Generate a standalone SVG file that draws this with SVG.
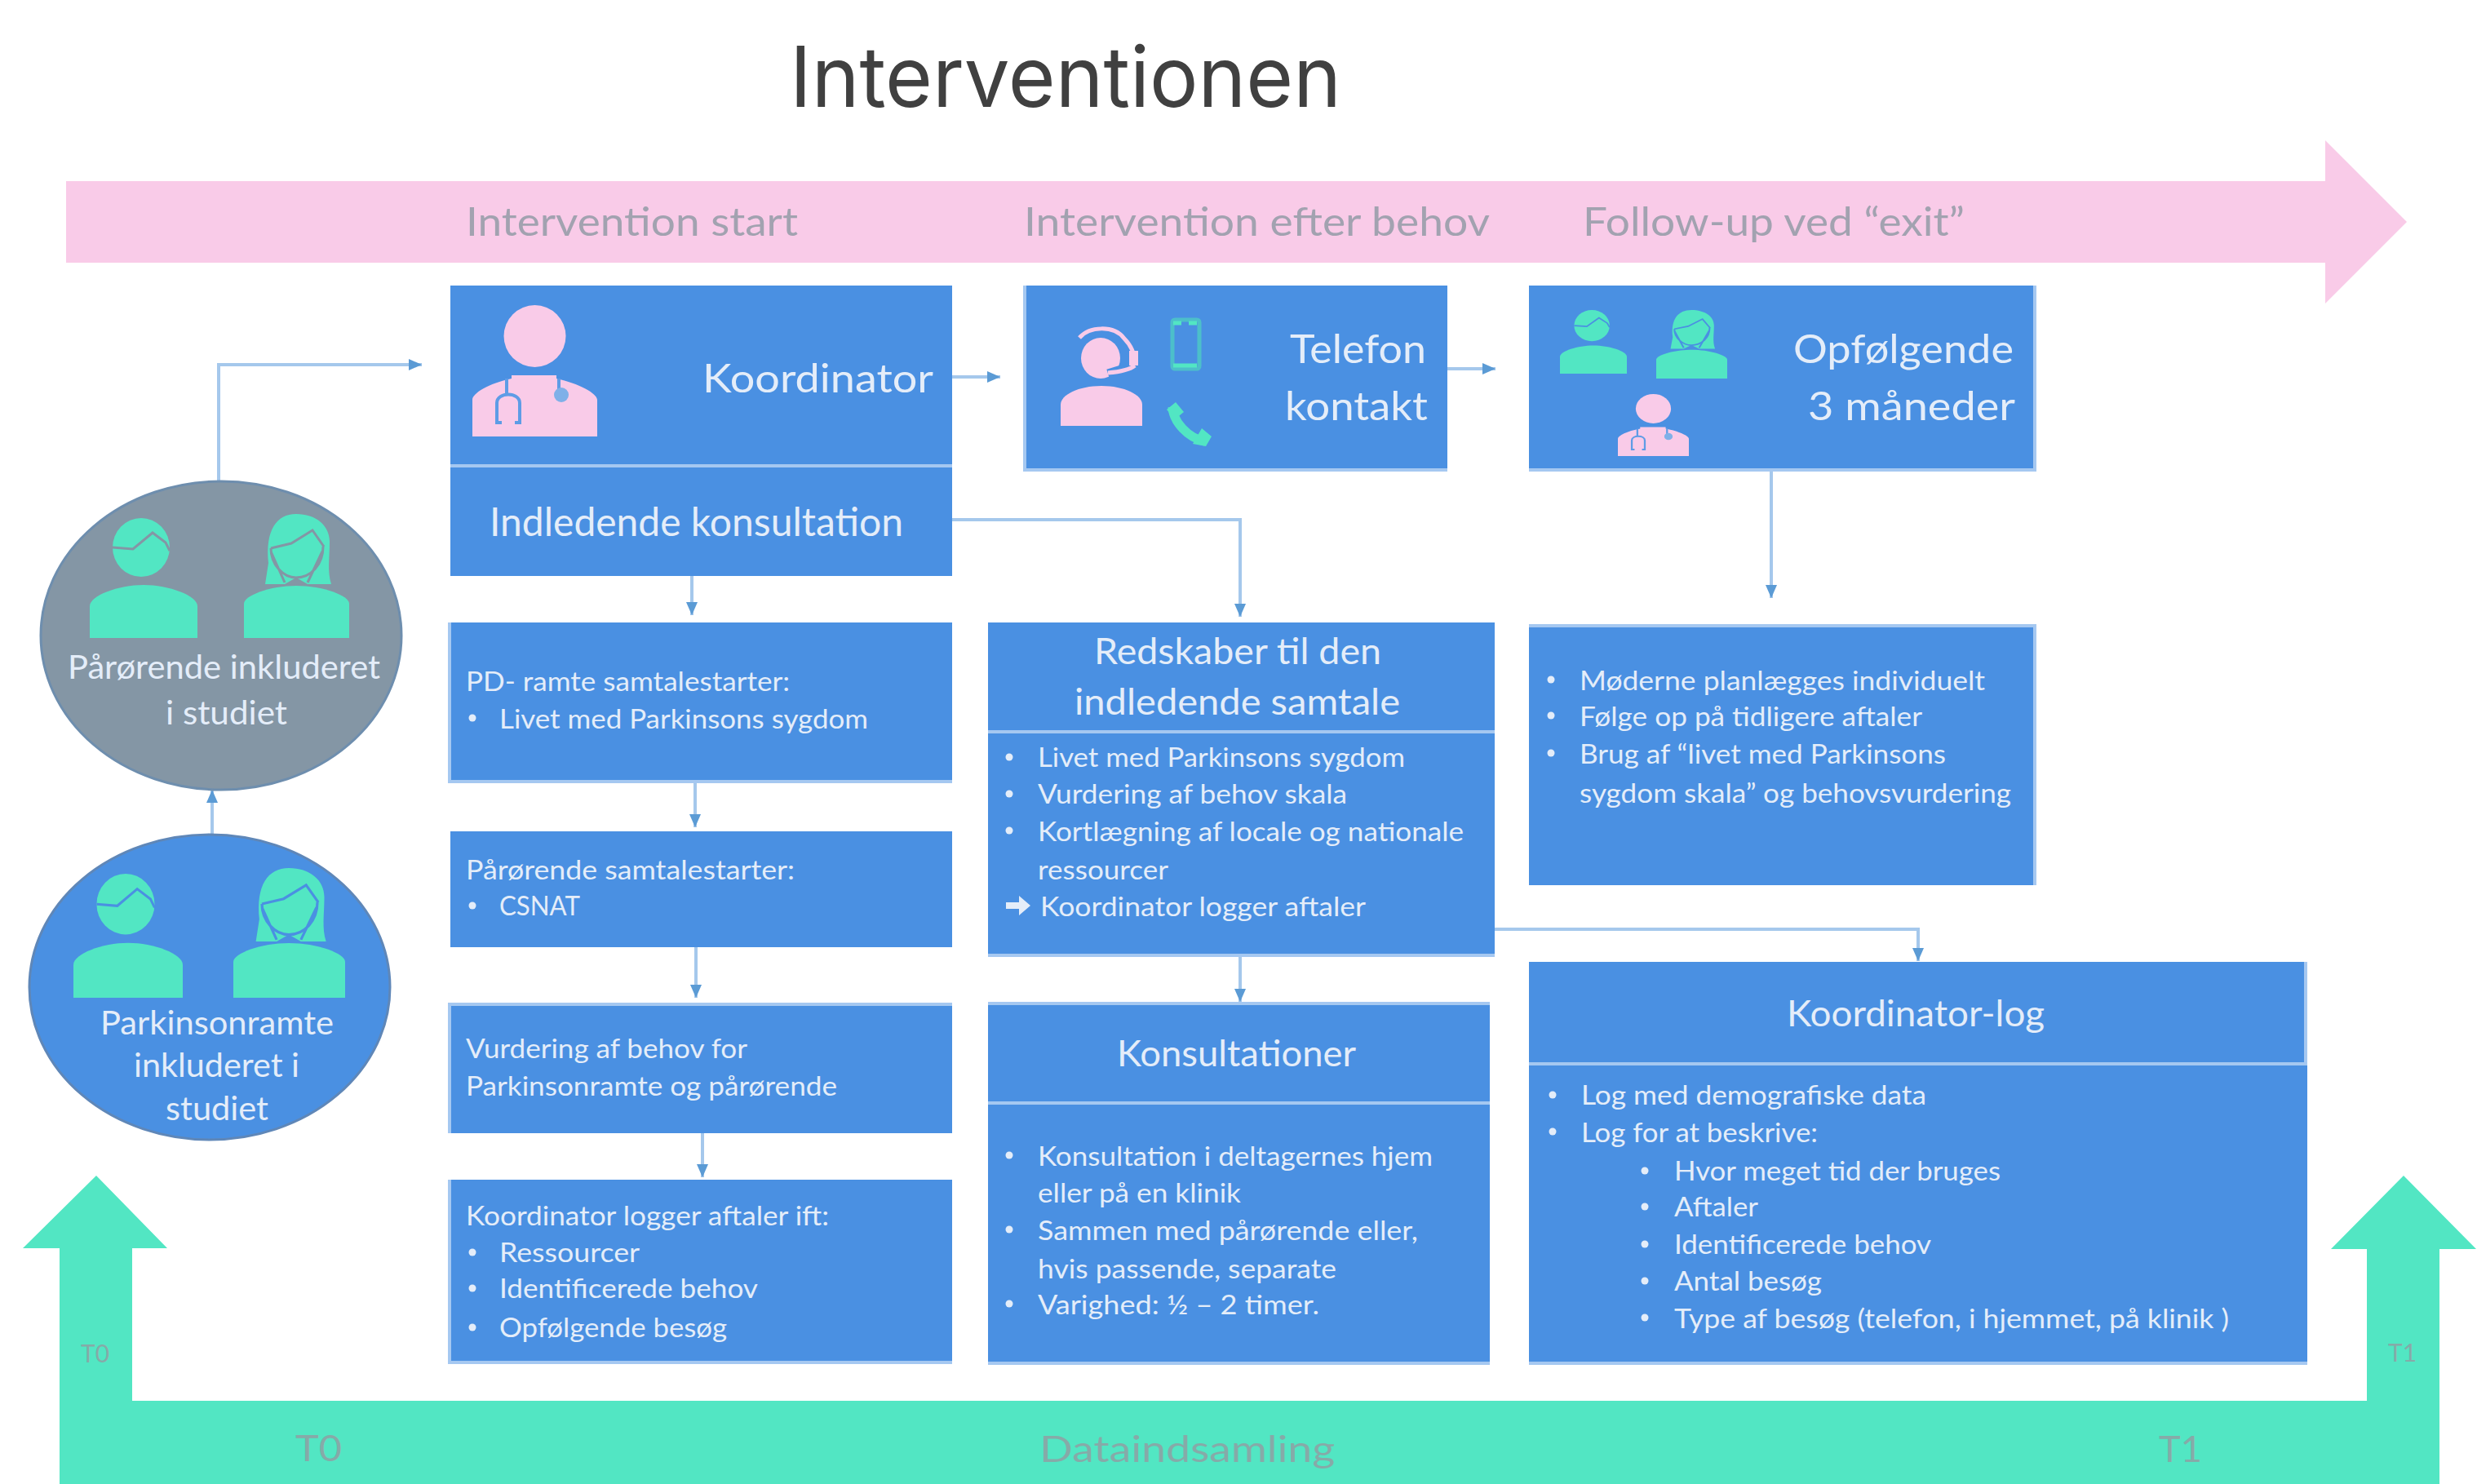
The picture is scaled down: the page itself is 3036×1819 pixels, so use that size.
<svg xmlns="http://www.w3.org/2000/svg" width="3036" height="1819" viewBox="0 0 3036 1819">
<style>
text{font-family:Lato,"Liberation Sans",sans-serif;fill:#e4edf9}
.box{fill:#4a90e2}
.edge{fill:none;stroke:#a5c8f1;stroke-width:4}
.s{font-size:33px}
.m{font-size:44px}
.l{font-size:48px}
.band{font-size:48px;fill:#a2a2b0}
.g{font-size:44px;fill:#86aaa8}
.gs{font-size:30px;fill:#86aaa8}
.c{font-size:40px}
.b{fill:#e4edf9}
.conn{fill:none;stroke:#a5c8ec;stroke-width:4;marker-end:url(#ah)}
.mint{fill:#52e6c3}
.pink{fill:#f9cbe8}
</style>
<defs>
<marker id="ah" markerUnits="userSpaceOnUse" markerWidth="20" markerHeight="20" refX="16" refY="9" orient="auto"><path d="M0,2 L16,9 L0,16 Z" fill="#5b9bd5"/></marker>
<symbol id="male" viewBox="0 0 132 147" preserveAspectRatio="none" overflow="visible">
<ellipse cx="63" cy="36" rx="35" ry="36" class="mint"/>
<path d="M28,36 L53,38 L77,18 L93,30 L98,40" fill="none" stroke="currentColor" stroke-width="3"/>
<path d="M0,147 V108 C0,95 35,82 66,82 C97,82 132,95 132,108 V147 Z" class="mint"/>
</symbol>
<symbol id="female" viewBox="0 0 129 152" preserveAspectRatio="none" overflow="visible">
<path d="M26,86 L30,60 C26,20 40,0 64,0 C88,0 105,14 105,34 C105,55 102,70 107,86 H78 L64,78 L50,86 Z" class="mint"/>
<path d="M33,42 L58,36 L84,20 L98,40 M33,42 C33,62 48,78 64,78 C82,78 97,62 97,40 M33,46 L50,84 M96,46 L78,84" fill="none" stroke="currentColor" stroke-width="3"/>
<path d="M0,152 V110 C0,100 32,88 64,88 C97,88 129,100 129,110 V152 Z" class="mint"/>
</symbol>
<symbol id="doctor" viewBox="0 0 153 161" preserveAspectRatio="none" overflow="visible">
<circle cx="76.500" cy="38" r="38" class="pink"/>
<path d="M0,161 V116 C0,108 20,96 48,90 V86 H103 V90 C130,96 153,108 153,116 V161 Z" class="pink"/>
<path d="M36,144 H30 V120 C30,106 58,106 58,120 V144 H52 M42,90 V108 M106,90 V108" fill="none" stroke="#5e9ce6" stroke-width="4"/>
<circle cx="109" cy="110" r="9" fill="#7fb0e8"/>
</symbol>
</defs>
<rect width="3036" height="1819" fill="#ffffff"/>
<text id="title" x="968" y="131" style="font-family:Inter,'Liberation Sans',sans-serif;font-size:103px;fill:#404040" textLength="676" lengthAdjust="spacingAndGlyphs">Interventionen</text>

<g id="timeline">
<path d="M81,222 H2850 V172 L2950,272 L2850,372 V322 H81 Z" class="pink"/>
<text class="band" x="571" y="289" textLength="407" lengthAdjust="spacingAndGlyphs">Intervention start</text>
<text class="band" x="1255" y="289" textLength="571" lengthAdjust="spacingAndGlyphs">Intervention efter behov</text>
<text class="band" x="1940" y="289" textLength="468" lengthAdjust="spacingAndGlyphs">Follow-up ved “exit”</text>
</g>

<g id="datacollection">
<path d="M73,1819 V1530 H28 L118,1441 L205,1530 H162 V1717 H2901 V1531 H2857 L2946,1441 L3035,1531 H2990 V1819 Z" class="mint"/>
<text class="gs" x="99" y="1670" textLength="35" lengthAdjust="spacingAndGlyphs">T0</text>
<text class="gs" x="2927" y="1669" textLength="35" lengthAdjust="spacingAndGlyphs">T1</text>
<text class="g" x="362" y="1791" textLength="57" lengthAdjust="spacingAndGlyphs">T0</text>
<text class="g" x="1274" y="1792" textLength="362" lengthAdjust="spacingAndGlyphs">Dataindsamling</text>
<text class="g" x="2646" y="1792" textLength="53" lengthAdjust="spacingAndGlyphs">T1</text>
</g>

<g id="connectors">
<path class="conn" d="M268,590 V447 H517"/>
<path class="conn" d="M1167,462 H1226"/>
<path class="conn" d="M1774,452 H1833"/>
<path class="conn" d="M1167,637 H1520 V756"/>
<path class="conn" d="M848,706 V754"/>
<path class="conn" d="M852,960 V1014"/>
<path class="conn" d="M853,1161 V1223"/>
<path class="conn" d="M861,1389 V1443"/>
<path class="conn" d="M260,1023 V968"/>
<path class="conn" d="M2171,576 V733"/>
<path class="conn" d="M1520,1173 V1228"/>
<path class="conn" d="M1832,1139 H2351 V1178"/>
</g>

<g id="relatives">
<ellipse cx="271" cy="779" rx="221" ry="189" fill="#8496a5" stroke="#6e8eae" stroke-width="3"/>
<use href="#male" x="110" y="635" width="132" height="147" color="#8496a5"/>
<use href="#female" x="299" y="630" width="129" height="152" color="#8496a5"/>
<text class="c" x="83" y="832" textLength="383" lengthAdjust="spacingAndGlyphs">Pårørende inkluderet</text>
<text class="c" x="203" y="888" textLength="149" lengthAdjust="spacingAndGlyphs">i studiet</text>
</g>

<g id="patients">
<ellipse cx="257" cy="1210" rx="221" ry="187" fill="#4a90e2" stroke="#5f87b8" stroke-width="3"/>
<use href="#male" x="90" y="1071" width="134" height="152" color="#4a90e2"/>
<use href="#female" x="286" y="1064" width="137" height="159" color="#4a90e2"/>
<text class="c" x="123" y="1268" textLength="286" lengthAdjust="spacingAndGlyphs">Parkinsonramte</text>
<text class="c" x="164" y="1320" textLength="203" lengthAdjust="spacingAndGlyphs">inkluderet i</text>
<text class="c" x="203" y="1373" textLength="126" lengthAdjust="spacingAndGlyphs">studiet</text>
</g>

<g id="koordinator">
<rect class="box" x="552" y="350" width="615" height="356"/>
<path class="edge" d="M552,571 H1167"/>
<use href="#doctor" x="579" y="374" width="153" height="161"/>
<text class="l" x="861" y="481" textLength="283" lengthAdjust="spacingAndGlyphs">Koordinator</text>
<text class="l" x="600" y="657" textLength="507" lengthAdjust="spacingAndGlyphs">Indledende  konsultation</text>
</g>

<g id="telefon">
<rect class="box" x="1254" y="350" width="520" height="226"/>
<path class="edge" d="M1256,350 V576 H1774"/>
<ellipse cx="1349" cy="439" rx="24" ry="25" class="pink"/>
<path d="M1397,446 L1358,458" fill="none" stroke="#4a90e2" stroke-width="11"/>
<path d="M1323,414 C1335,400 1365,398 1378,415 C1386,423 1391,432 1391,446" fill="none" stroke="#f9cbe8" stroke-width="5"/>
<path d="M1391,448 C1385,453 1370,456 1358,457" fill="none" stroke="#f9cbe8" stroke-width="5"/>
<path d="M1384,430 h11 v18 h-11 z" class="pink"/>
<path d="M1300,522 V496 C1300,484 1322,473 1350,473 C1378,473 1400,484 1400,496 V522 Z" class="pink"/>
<rect x="1437" y="392" width="33" height="60" rx="3" fill="none" stroke="#4cbfca" stroke-width="5"/>
<path d="M1438,396 H1448 M1457,396 H1467 M1438,448 H1467" stroke="#52e6c3" stroke-width="5" fill="none"/>
<path d="M1437,499 C1438,517 1456,537 1477,541" fill="none" stroke="#52e6c3" stroke-width="11"/>
<path d="M1430,502 L1441,493 L1451,505 L1440,514 Z M1462,544 L1473,525 L1485,535 L1478,547 Z" class="mint"/>
<text class="l" x="1581" y="445" textLength="167" lengthAdjust="spacingAndGlyphs">Telefon</text>
<text class="l" x="1575" y="515" textLength="175" lengthAdjust="spacingAndGlyphs">kontakt</text>
</g>

<g id="opfolgende">
<rect class="box" x="1874" y="350" width="620" height="226"/>
<path class="edge" d="M1874,576 H2494 V350"/>
<use href="#male" x="1912" y="380" width="82" height="78" color="#4a90e2"/>
<use href="#female" x="2030" y="380" width="87" height="84" color="#4a90e2"/>
<use href="#doctor" x="1983" y="483" width="87" height="76"/>
<text class="l" x="2198" y="445" textLength="270" lengthAdjust="spacingAndGlyphs">Opfølgende</text>
<text class="l" x="2216" y="515" textLength="254" lengthAdjust="spacingAndGlyphs">3 måneder</text>
</g>

<g id="pd-samtale">
<rect class="box" x="549" y="763" width="618" height="197"/>
<path class="edge" d="M551,763 V958 H1167"/>
<text class="s" x="571" y="847" textLength="397" lengthAdjust="spacingAndGlyphs">PD- ramte samtalestarter:</text>
<circle class="b" cx="579" cy="880" r="4.500"/>
<text class="s" x="612" y="893" textLength="452" lengthAdjust="spacingAndGlyphs">Livet med Parkinsons sygdom</text>
</g>

<g id="paaroerende-samtale">
<rect class="box" x="552" y="1019" width="615" height="142"/>
<text class="s" x="571" y="1078" textLength="403" lengthAdjust="spacingAndGlyphs">Pårørende samtalestarter:</text>
<circle class="b" cx="579" cy="1110" r="4.500"/>
<text class="s" x="612" y="1122" textLength="99" lengthAdjust="spacingAndGlyphs">CSNAT</text>
</g>

<g id="vurdering">
<rect class="box" x="549" y="1229" width="618" height="160"/>
<path class="edge" d="M1167,1231 H551 V1389"/>
<text class="s" x="571" y="1297" textLength="345" lengthAdjust="spacingAndGlyphs">Vurdering af behov for</text>
<text class="s" x="571" y="1343" textLength="455" lengthAdjust="spacingAndGlyphs">Parkinsonramte og pårørende</text>
</g>

<g id="logger-aftaler">
<rect class="box" x="549" y="1446" width="618" height="226"/>
<path class="edge" d="M551,1446 V1670 H1167"/>
<text class="s" x="571" y="1502" textLength="445" lengthAdjust="spacingAndGlyphs">Koordinator  logger aftaler ift:</text>
<circle class="b" cx="579" cy="1535" r="4.500"/>
<text class="s" x="612" y="1547" textLength="172" lengthAdjust="spacingAndGlyphs">Ressourcer</text>
<circle class="b" cx="579" cy="1579" r="4.500"/>
<text class="s" x="612" y="1591" textLength="317" lengthAdjust="spacingAndGlyphs">Identificerede behov</text>
<circle class="b" cx="579" cy="1627" r="4.500"/>
<text class="s" x="612" y="1639" textLength="279" lengthAdjust="spacingAndGlyphs">Opfølgende besøg</text>
</g>

<g id="redskaber">
<rect class="box" x="1211" y="763" width="621" height="410"/>
<path class="edge" d="M1211,897 H1832 M1211,1171 H1832"/>
<text class="m" x="1341" y="814" textLength="352" lengthAdjust="spacingAndGlyphs">Redskaber  til den</text>
<text class="m" x="1317" y="876" textLength="399" lengthAdjust="spacingAndGlyphs">indledende samtale</text>
<circle class="b" cx="1237" cy="928" r="4.500"/>
<text class="s" x="1272" y="940" textLength="450" lengthAdjust="spacingAndGlyphs">Livet med Parkinsons sygdom</text>
<circle class="b" cx="1237" cy="973" r="4.500"/>
<text class="s" x="1272" y="985" textLength="379" lengthAdjust="spacingAndGlyphs">Vurdering af behov skala</text>
<circle class="b" cx="1237" cy="1018" r="4.500"/>
<text class="s" x="1272" y="1031" textLength="522" lengthAdjust="spacingAndGlyphs">Kortlægning af locale og nationale</text>
<text class="s" x="1272" y="1078" textLength="160" lengthAdjust="spacingAndGlyphs">ressourcer</text>
<path d="M1233,1106 H1249 V1098 L1263,1110 L1249,1122 V1114 H1233 Z" class="b"/>
<text class="s" x="1275" y="1123" textLength="399" lengthAdjust="spacingAndGlyphs">Koordinator  logger aftaler</text>
</g>

<g id="follow-indhold">
<rect class="box" x="1874" y="765" width="620" height="320"/>
<path class="edge" d="M1874,767 H2494 V1085"/>
<circle class="b" cx="1901" cy="833" r="4.500"/>
<text class="s" x="1936" y="846" textLength="497" lengthAdjust="spacingAndGlyphs">Møderne planlægges individuelt</text>
<circle class="b" cx="1901" cy="877" r="4.500"/>
<text class="s" x="1936" y="890" textLength="420" lengthAdjust="spacingAndGlyphs">Følge op på tidligere aftaler</text>
<circle class="b" cx="1901" cy="923" r="4.500"/>
<text class="s" x="1936" y="936" textLength="449" lengthAdjust="spacingAndGlyphs">Brug af “livet med Parkinsons</text>
<text class="s" x="1936" y="984" textLength="529" lengthAdjust="spacingAndGlyphs">sygdom skala” og behovsvurdering</text>
</g>

<g id="konsultationer">
<rect class="box" x="1211" y="1228" width="615" height="445"/>
<path class="edge" d="M1211,1230 H1826 M1211,1352 H1826 M1211,1671 H1826"/>
<text class="m" x="1369" y="1307" textLength="293" lengthAdjust="spacingAndGlyphs">Konsultationer</text>
<circle class="b" cx="1237" cy="1416" r="4.500"/>
<text class="s" x="1272" y="1429" textLength="484" lengthAdjust="spacingAndGlyphs">Konsultation i deltagernes hjem</text>
<text class="s" x="1272" y="1474" textLength="249" lengthAdjust="spacingAndGlyphs">eller på en klinik</text>
<circle class="b" cx="1237" cy="1507" r="4.500"/>
<text class="s" x="1272" y="1520" textLength="466" lengthAdjust="spacingAndGlyphs">Sammen  med pårørende  eller,</text>
<text class="s" x="1272" y="1567" textLength="366" lengthAdjust="spacingAndGlyphs">hvis passende, separate</text>
<circle class="b" cx="1237" cy="1598" r="4.500"/>
<text class="s" x="1272" y="1611" textLength="345" lengthAdjust="spacingAndGlyphs">Varighed: ½ – 2 timer.</text>
</g>

<g id="koordinator-log">
<rect class="box" x="1874" y="1179" width="954" height="494"/>
<path class="edge" d="M1874,1304 H2828 M1874,1671 H2828 M2826,1179 V1304"/>
<text class="m" x="2190" y="1258" textLength="316" lengthAdjust="spacingAndGlyphs">Koordinator-log</text>
<circle class="b" cx="1903" cy="1342" r="4.500"/>
<text class="s" x="1938" y="1354" textLength="423" lengthAdjust="spacingAndGlyphs">Log med demografiske data</text>
<circle class="b" cx="1903" cy="1387" r="4.500"/>
<text class="s" x="1938" y="1400" textLength="290" lengthAdjust="spacingAndGlyphs">Log for at beskrive:</text>
<circle class="b" cx="2016" cy="1435" r="4.500"/>
<text class="s" x="2052" y="1447" textLength="400" lengthAdjust="spacingAndGlyphs">Hvor meget tid der bruges</text>
<circle class="b" cx="2016" cy="1479" r="4.500"/>
<text class="s" x="2052" y="1491" textLength="103" lengthAdjust="spacingAndGlyphs">Aftaler</text>
<circle class="b" cx="2016" cy="1525" r="4.500"/>
<text class="s" x="2052" y="1537" textLength="315" lengthAdjust="spacingAndGlyphs">Identificerede behov</text>
<circle class="b" cx="2016" cy="1570" r="4.500"/>
<text class="s" x="2052" y="1582" textLength="181" lengthAdjust="spacingAndGlyphs">Antal besøg</text>
<circle class="b" cx="2016" cy="1615" r="4.500"/>
<text class="s" x="2052" y="1628" textLength="680" lengthAdjust="spacingAndGlyphs">Type af besøg (telefon, i hjemmet,  på klinik )</text>
</g>
</svg>
